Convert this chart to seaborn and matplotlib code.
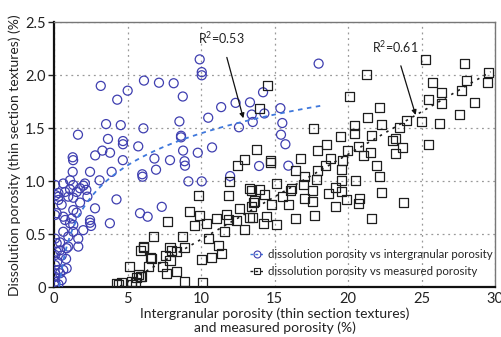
import numpy as np
import pandas as pd
import matplotlib
matplotlib.use("Agg")
import matplotlib.pyplot as plt
import seaborn as sns
from matplotlib.lines import Line2D

# ---- data ----
circ_x = [3.18, 5.01, 6.12, 7.14, 8.14, 8.76, 9.91, 10.05, 10.05, 4.30,
          3.54, 4.54, 6.08, 1.63, 3.67, 4.69, 4.69, 5.73, 3.29, 3.81,
          2.80, 1.27, 1.30, 4.68, 6.83, 7.89, 8.78, 9.78, 8.88, 8.91,
          10.75, 10.49, 11.37, 12.35, 12.58, 13.33, 14.22, 13.45, 14.31, 13.52,
          8.53, 8.64, 8.64, 18.0, 15.4, 15.53, 15.44, 15.74, 13.95, 15.94,
          1.27, 2.45, 3.92, 6.0, 6.02, 6.94, 11.98, 9.14, 10.05, 7.33,
          5.85, 6.37, 4.25,
          0.07, 0.63, 1.09, 1.31, 2.0, 2.1, 3.1, 0.11, 0.3, 0.3,
          0.3, 0.75, 0.97, 1.09, 1.54, 1.77, 2.2, 2.27, 1.31, 1.77,
          2.79, 0.52, 1.31, 1.54, 0.18, 0.07, 0.63, 0.75, 1.2, 1.09,
          1.31, 2.45, 2.45, 2.52, 3.8, 1.99, 0.63, 1.31, 0.97, 1.65,
          0.07, 0.41, 0.18, 0.97, 1.65, 0.41, 0.86, 0.18, 0.07, 0.52,
          0.82, 0.22, 0.07, 0.63, 0.29, 0.86, 0.41, 0.07, 0.07, 0.52,
          0.07, 0.07, 0.3]
circ_y = [1.90, 1.855, 1.95, 1.93, 1.925, 1.80, 2.15, 2.03, 2.00, 1.77,
          1.54, 1.53, 1.50, 1.44, 1.40, 1.38, 1.35, 1.33, 1.29, 1.27,
          1.245, 1.227, 1.20, 1.20, 1.215, 1.20, 1.29, 1.27, 1.19, 1.148,
          1.32, 1.60, 1.70, 1.74, 1.51, 1.745, 1.84, 1.63, 1.64, 1.56,
          1.565, 1.43, 1.415, 2.11, 1.69, 1.55, 1.44, 1.35, 1.145, 1.148,
          1.09, 1.09, 1.09, 1.067, 1.044, 1.11, 1.05, 1.0, 1.0, 0.76,
          0.70, 0.667, 0.83,
          0.966, 0.98, 1.01, 0.966, 0.96, 0.98, 1.01, 0.87, 0.89, 0.856,
          0.825, 0.90, 0.856, 0.925, 0.90, 0.935, 0.92, 0.856, 0.846, 0.80,
          0.746, 0.78, 0.73, 0.705, 0.70, 0.683, 0.667, 0.636, 0.65, 0.605,
          0.59, 0.636, 0.61, 0.58, 0.605, 0.54, 0.525, 0.525, 0.48, 0.46,
          0.46, 0.425, 0.417, 0.385, 0.385, 0.35, 0.37, 0.337, 0.306, 0.30,
          0.27, 0.243, 0.21, 0.165, 0.165, 0.18, 0.134, 0.134, 0.10, 0.07,
          0.055, 0.03, 0.03]

sq_x = [14.5, 13.98, 13.76, 12.95, 14.7, 21.29, 20.07, 22.15, 21.34, 20.45,
        22.29, 17.64, 19.48, 20.41, 21.59, 18.57, 17.94, 20.7, 19.98, 21.5,
        16.78, 18.8, 19.65, 21.04, 23.04, 23.2, 23.72, 23.24, 23.52, 23.97,
        24.99, 26.21, 25.49, 25.28, 25.76, 26.37, 25.49, 26.37, 27.55, 27.94,
        28.07, 27.69, 28.59, 29.59, 29.46, 14.74, 21.95, 18.5, 12.47, 17.91,
        16.4, 17.07, 16.96, 17.87, 19.57, 19.57, 20.48, 22.13, 15.15, 16.17,
        16.06, 15.56, 17.07, 17.6, 17.6, 18.66, 19.12, 19.57, 19.91, 20.77,
        20.7, 22.29, 19.12, 15.94, 16.4, 17.74, 21.61, 15.15, 14.33, 14.81,
        23.78, 14.24, 13.56, 13.33,
        11.97, 11.86, 9.82, 13.33, 13.45, 13.97, 12.65, 13.45, 13.67, 9.25,
        9.93, 11.07, 11.7, 11.86, 12.43, 13.52, 14.47, 7.71, 9.55, 11.59,
        12.93, 8.73, 10.54, 7.89, 8.0, 8.3, 8.91, 11.18, 7.55, 7.89,
        10.05, 10.73, 11.41, 7.37, 7.67, 8.33, 8.86, 10.09, 6.76, 6.08,
        5.85, 6.53, 6.46, 5.12, 5.73, 5.58, 5.29, 5.51, 4.6, 4.26,
        4.4, 5.29, 5.85, 5.97, 6.12, 6.65, 10.39]
sq_y = [1.905, 1.69, 1.30, 1.21, 1.20, 2.005, 1.80, 1.70, 1.60, 1.53,
        1.54, 1.50, 1.425, 1.45, 1.43, 1.35, 1.29, 1.33, 1.29, 1.27,
        1.215, 1.22, 1.20, 1.245, 1.385, 1.40, 1.32, 1.265, 1.51, 1.57,
        1.565, 1.55, 1.35, 2.15, 1.93, 1.84, 1.77, 1.735, 1.63, 2.11,
        1.95, 1.855, 1.74, 2.03, 1.93, 1.18, 1.145, 1.145, 1.148, 1.10,
        1.107, 1.044, 0.966, 1.013, 1.11, 1.004, 1.004, 1.044, 0.98, 0.935,
        0.91, 0.856, 0.84, 0.91, 0.81, 0.888, 0.944, 0.903, 0.83, 0.84,
        0.794, 0.897, 0.762, 0.778, 0.652, 0.674, 0.652, 0.596, 0.872, 0.778,
        0.80, 0.605, 0.80, 0.658,
        1.0, 0.866, 0.866, 0.935, 0.912, 0.92, 0.746, 0.762, 0.815, 0.72,
        0.683, 0.652, 0.69, 0.636, 0.627, 0.66, 0.667, 0.62, 0.583, 0.526,
        0.55, 0.485, 0.464, 0.38, 0.353, 0.34, 0.38, 0.394, 0.30, 0.25,
        0.26, 0.28, 0.32, 0.2, 0.134, 0.149, 0.06, 0.045, 0.48, 0.385,
        0.344, 0.28, 0.20, 0.20, 0.118, 0.093, 0.06, 0.045, 0.045, 0.04,
        0.03, 0.024, 0.10, 0.10, 0.375, 0.275, 0.60]

x_ticks = [0, 5, 10, 15, 20, 25, 30]
y_ticks = [0, 0.5, 1.0, 1.5, 2.0, 2.5]
y_tick_labels = ["0", "0.5", "1.0", "1.5", "2.0", "2.5"]
series_labels = ["dissolution porosity vs intergranular porosity",
                 "dissolution porosity vs measured porosity"]
r2_labels = ["R$^2$=0.53", "R$^2$=0.61"]
x_label = "Intergranular porosity (thin section textures)\nand measured porosity (%)"
y_label = "Dissolution porosity (thin section textures) (%)"

# trend lines as drawn in the reference (coefficients)
log_fit_coef = (0.449, 0.436)      # y = a + b ln(x), circles
lin_fit_coef = (-0.349, 0.0802)    # y = c + m x, squares
blue_fit_range = (0.3, 18.3)
black_fit_range = (4.5, 29.7)

# ---- styling ----
sns.set_style("white")
plt.rcParams["font.family"] = ["Lato", "DejaVu Sans"]
plt.rcParams["mathtext.fontset"] = "custom"
plt.rcParams["mathtext.rm"] = "Lato"

circ_col = "#3f3fb0"
blue_line = "#3f78dc"
sq_col = "#1e1e1e"

fig = plt.figure(figsize=(5.02, 3.37), dpi=100)
ax = fig.add_axes([0.1076, 0.147, 0.8785, 0.787])

circ_df = pd.DataFrame({"x": circ_x, "y": circ_y})
sq_df = pd.DataFrame({"x": sq_x, "y": sq_y})

sns.scatterplot(data=circ_df, x="x", y="y", ax=ax, marker="o", s=42,
                facecolors="none", edgecolor=circ_col, linewidth=0.9, zorder=3)
sns.scatterplot(data=sq_df, x="x", y="y", ax=ax, marker="s", s=42,
                facecolors="none", edgecolor=sq_col, linewidth=0.9, zorder=3)

a1, b1 = log_fit_coef
fx1 = np.linspace(*blue_fit_range, 200)
fit1 = pd.DataFrame({"x": fx1, "y": a1 + b1 * np.log(fx1)})
sns.lineplot(data=fit1, x="x", y="y", ax=ax, color=blue_line, lw=1.3,
             linestyle=(0, (2.5, 2.5)), zorder=4)

c2, m2 = lin_fit_coef
fx2 = np.linspace(*black_fit_range, 50)
fit2 = pd.DataFrame({"x": fx2, "y": c2 + m2 * fx2})
sns.lineplot(data=fit2, x="x", y="y", ax=ax, color=sq_col, lw=1.2,
             linestyle=(0, (1.5, 3)), zorder=4)

ax.set_xlim(0, 30)
ax.set_ylim(0, 2.5)
ax.set_xticks(x_ticks)
ax.set_xticklabels([str(t) for t in x_ticks])
ax.set_yticks(y_ticks)
ax.set_yticklabels(y_tick_labels)
ax.tick_params(axis="x", length=0, labelsize=10.5, pad=3, colors="#222")
ax.tick_params(axis="y", length=4, width=1, direction="out", labelsize=10.5,
               pad=2, colors="#222", left=True)
ax.grid(True, linestyle=(0, (1.5, 3)), color="#999999", lw=0.9)
ax.set_axisbelow(True)

for s in ["left", "bottom"]:
    ax.spines[s].set_color("#111")
    ax.spines[s].set_linewidth(1.6)
for s in ["top", "right"]:
    ax.spines[s].set_color("#777")
    ax.spines[s].set_linewidth(1.0)

ax.set_xlabel(x_label, fontsize=10, color="#222", labelpad=1, linespacing=1.15)
ax.set_ylabel(y_label, fontsize=10, color="#222", labelpad=3)

# annotations
ax.annotate(r2_labels[0], xy=(12.88, 1.595), xytext=(11.4, 2.35),
            fontsize=9, ha="center", va="center", color="#222",
            arrowprops=dict(arrowstyle="-|>", color="#111", lw=0.9,
                            mutation_scale=7, shrinkA=6, shrinkB=0))
ax.annotate(r2_labels[1], xy=(24.6, 1.626), xytext=(23.2, 2.27),
            fontsize=9, ha="center", va="center", color="#222",
            arrowprops=dict(arrowstyle="-|>", color="#111", lw=0.9,
                            mutation_scale=7, shrinkA=6, shrinkB=0))

handles = [Line2D([], [], color=blue_line, linestyle=(0, (2, 1.5)), lw=1,
                  marker="o", markerfacecolor="none", markeredgecolor=circ_col,
                  markersize=5, markeredgewidth=0.8),
           Line2D([], [], color=sq_col, linestyle=(0, (2, 1.5)), lw=1,
                  marker="s", markerfacecolor="none", markeredgecolor=sq_col,
                  markersize=5, markeredgewidth=0.8)]
ax.legend(handles, series_labels, loc="lower right", frameon=False,
          fontsize=8.3, handlelength=1.2, handletextpad=0.3,
          labelspacing=0.45, borderaxespad=0.0, borderpad=0.25,
          bbox_to_anchor=(1.0, 0.03))

fig.savefig("out.png", dpi=100)
